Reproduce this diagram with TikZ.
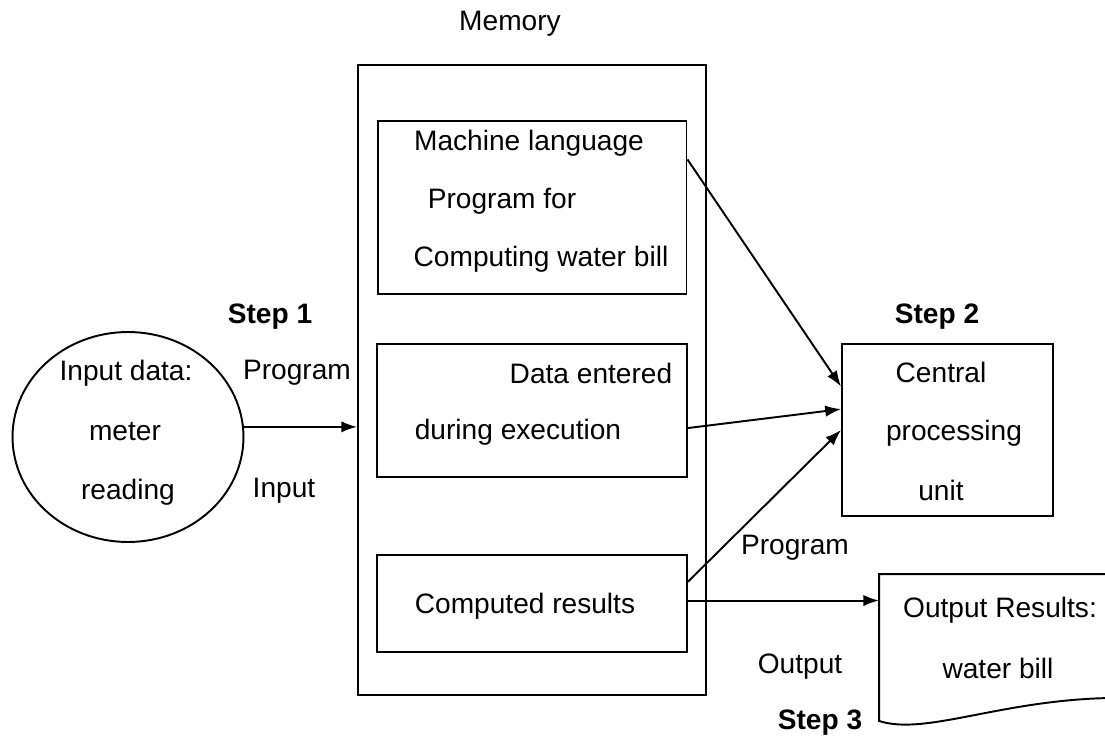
\documentclass[tikz,border=0pt]{standalone}
\usepackage{fontspec}
\setmainfont{Liberation Sans}
\usepackage{tikz}
\usetikzlibrary{arrows.meta, positioning, shapes.geometric, calc}

\begin{document}
\begin{tikzpicture}[->, >={Latex[length=9pt, width=6.5pt]}, line width=1.1pt, x=0.02cm, y=-0.02cm,
    font=\fontsize{16}{19}\selectfont]
    \tikzstyle{block}=[rectangle, draw, inner sep=0pt]
    \tikzstyle{txt}=[inner sep=1pt]
    \tikzstyle{steplbl}=[inner sep=1pt, font=\fontsize{16}{19}\selectfont\bfseries]

    \useasboundingbox (0,0) rectangle (1105,740);

    % memory and its three parts
    \node[block, minimum width=6.96cm, minimum height=12.6cm] (mem) at (532,380) {};
    \node[txt] (memlbl) at (510,24) {Memory};
    \node[block, minimum width=6.18cm, minimum height=3.46cm] (prog) at (532,207.5) {};
    \node[block, minimum width=6.2cm, minimum height=2.66cm] (data) at (532,410.5) {};
    \node[block, minimum width=6.2cm, minimum height=1.94cm] (res) at (532,603.5) {};

    \node[txt] (p1) at (529,143) {Machine language};
    \node[txt] (p2) at (502,201) {Program for};
    \node[txt] (p3) at (541,259) {Computing water bill};
    \node[txt] (d1) at (591,373) {Data entered};
    \node[txt] (d2) at (518,432) {during execution};
    \node[txt] (r1) at (525,606) {Computed results};

    % input
    \node[ellipse, draw, minimum width=4.62cm, minimum height=4.2cm, inner sep=0pt] (inp) at (128,437) {};
    \node[txt] (i1) at (126,373) {Input data:};
    \node[txt] (i2) at (125,432) {meter};
    \node[txt] (i3) at (128,492) {reading};
    \node[steplbl] (s1) at (270,317) {Step 1};
    \node[txt] (lprog) at (297,373) {Program};
    \node[txt] (linp) at (284,491) {Input};

    % processor
    \node[block, minimum width=4.22cm, minimum height=3.44cm] (cpu) at (947.5,430) {};
    \node[txt] (c1) at (941,372) {Central};
    \node[txt] (c2) at (954,433) {processing};
    \node[txt] (c3) at (941,490) {unit};
    \node[steplbl] (s2) at (937,317) {Step 2};
    \node[txt] (lprog2) at (795,548) {Program};

    % output document
    \node[minimum width=4.6cm, minimum height=2.9cm, inner sep=0pt] (out) at (995,647.5) {};
    \draw[-] (out.north east) -- (out.north west) -- (out.south west)
        .. controls (925,736) and (1000,700) .. (1110,698);
    \node[txt] (o1) at (1000,610) {Output Results:};
    \node[txt] (o2) at (998,668) {water bill};
    \node[txt] (lout) at (800,667) {Output};
    \node[steplbl] (s3) at (820,723) {Step 3};

    % flow
    \draw (inp.5) coordinate (a) -- (a -| mem.west);
    \draw ($(prog.north east)!0.225!(prog.south east)$) -- ($(cpu.north west)!0.25!(cpu.south west)$);
    \draw ($(data.north east)!0.63!(data.south east)$) -- ($(cpu.north west)!0.38!(cpu.south west)$);
    \draw ($(res.north east)!0.28!(res.south east)$) -- ($(cpu.north west)!0.5!(cpu.south west)$);
    \draw ($(res.north east)!0.47!(res.south east)$) coordinate (b) -- (b -| out.west);
\end{tikzpicture}
\end{document}
